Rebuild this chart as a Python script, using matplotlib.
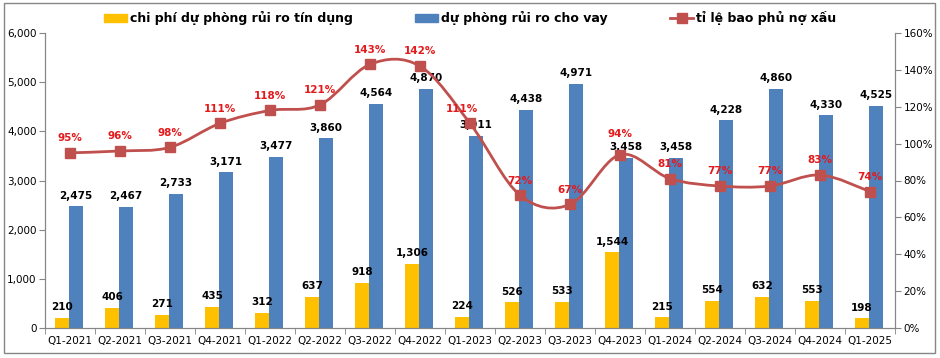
import matplotlib.pyplot as plt
import numpy as np
from matplotlib.path import Path
from matplotlib.patches import PathPatch, Rectangle, Patch
from matplotlib.lines import Line2D
from matplotlib.ticker import FuncFormatter

# Данные
quarters = ["Q1-2021", "Q2-2021", "Q3-2021", "Q4-2021", "Q1-2022", "Q2-2022", "Q3-2022", "Q4-2022",
            "Q1-2023", "Q2-2023", "Q3-2023", "Q4-2023", "Q1-2024", "Q2-2024", "Q3-2024", "Q4-2024",
            "Q1-2025"]
credit_cost = [210, 406, 271, 435, 312, 637, 918, 1306, 224, 526, 533, 1544, 215, 554, 632, 553, 198]
loan_provision = [2475, 2467, 2733, 3171, 3477, 3860, 4564, 4870, 3911, 4438, 4971, 3458, 3458, 4228,
                  4860, 4330, 4525]
coverage = [95, 96, 98, 111, 118, 121, 143, 142, 111, 72, 67, 94, 81, 77, 77, 83, 74]

YELLOW = "#FFC000"
BLUE = "#4F81BD"
RED_LINE = "#C0504D"
RED_TEXT = "#E31A1C"
GRAY = "#868686"

fig = plt.figure(figsize=(9.4, 3.58), dpi=100)
ax = fig.add_axes([45 / 940, 1 - 328 / 358, 850 / 940, 295 / 358])
ax2 = ax.twinx()

x = np.arange(len(quarters))
w = 0.28
ax.bar(x - 0.16, credit_cost, width=w, color=YELLOW, zorder=2)
ax.bar(x + 0.12, loan_provision, width=w, color=BLUE, zorder=2)

for i in x:
    ax.annotate(f"{credit_cost[i]:,}", (i - 0.16, credit_cost[i]), xytext=(0, 4),
                textcoords="offset points", ha="center", va="bottom",
                fontsize=7.5, fontweight="bold", color="black")
    ax.annotate(f"{loan_provision[i]:,}", (i + 0.12, loan_provision[i]), xytext=(0, 4),
                textcoords="offset points", ha="center", va="bottom",
                fontsize=7.5, fontweight="bold", color="black")

ax.set_xlim(-0.5, len(quarters) - 0.5)
ax.set_ylim(0, 6000)
ax.set_yticks(np.arange(0, 6001, 1000))
ax.yaxis.set_major_formatter(FuncFormatter(lambda v, p: f"{int(v):,}"))
ax.set_xticks(x)
ax.set_xticklabels(quarters)
ax.set_xticks(np.arange(-0.5, len(quarters)), minor=True)
ax.tick_params(axis="x", which="major", length=0, labelsize=7.5, pad=6)
ax.tick_params(axis="x", which="minor", length=4, color=GRAY)
ax.tick_params(axis="y", labelsize=7.5, length=4, color=GRAY, pad=2)

# Сглаженная линия (как в Excel) через кривые Безье
ax2.set_ylim(0, 160)
pts = np.column_stack([x, coverage]).astype(float)
verts = [pts[0]]
codes = [Path.MOVETO]
n = len(pts)
for k in range(n - 1):
    p0 = pts[k - 1] if k > 0 else pts[k]
    p1 = pts[k]
    p2 = pts[k + 1]
    p3 = pts[k + 2] if k + 2 < n else pts[k + 1]
    c1 = p1 + (p2 - p0) / 6
    c2 = p2 - (p3 - p1) / 6
    verts += [c1, c2, p2]
    codes += [Path.CURVE4] * 3
ax2.add_patch(PathPatch(Path(verts, codes), fill=False, edgecolor=RED_LINE, lw=2, zorder=3))
ax2.plot(x, coverage, linestyle="none", marker="s", markersize=6.5, color=RED_LINE, zorder=4)
for i in x:
    dx = -6 if i == 8 else 0
    dy = 11 if i == 11 else 7
    ax2.annotate(f"{coverage[i]}%", (i, coverage[i]), xytext=(dx, dy), textcoords="offset points",
                 ha="center", va="bottom", fontsize=7.5, fontweight="bold", color=RED_TEXT)

ax2.set_yticks(np.arange(0, 161, 20))
ax2.yaxis.set_major_formatter(FuncFormatter(lambda v, p: f"{int(v)}%"))
ax2.tick_params(axis="y", labelsize=7.5, length=4, color=GRAY, pad=2)

for a in (ax, ax2):
    a.spines["top"].set_visible(False)
    for s in ("left", "right", "bottom"):
        a.spines[s].set_color(GRAY)

handles = [Patch(color=YELLOW), Patch(color=BLUE),
           Line2D([0], [0], color=RED_LINE, lw=2, marker="s", markersize=6.5)]
labels = ["chi phí dự phòng rủi ro tín dụng", "dự phòng rủi ro cho vay", "tỉ lệ bao phủ nợ xấu"]
fig.legend(handles, labels, loc="center", bbox_to_anchor=(470 / 940, 1 - 18 / 358), ncol=3,
           frameon=False, prop={"weight": "bold", "size": 9}, columnspacing=5,
           handlelength=1.85, handletextpad=0.2, handleheight=0.6)

fig.patches.append(Rectangle((4 / 940, 5 / 358), 931 / 940, 350 / 358, transform=fig.transFigure,
                             fill=False, edgecolor=GRAY, lw=1))

fig.savefig("out.png", dpi=100)
